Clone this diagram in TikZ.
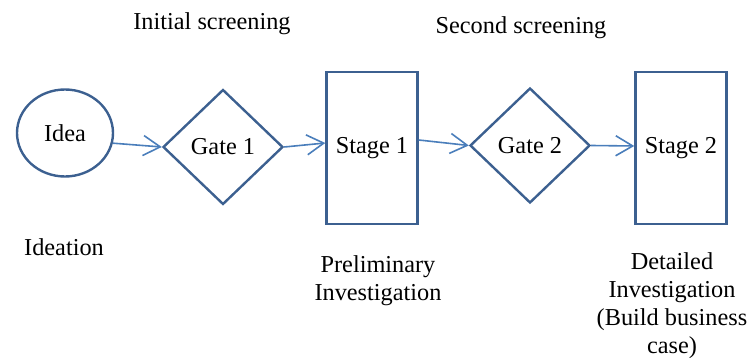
\documentclass[tikz,border=0pt]{standalone}
\usepackage{fontspec}
\setmainfont{Liberation Serif}
\usetikzlibrary{shapes.geometric,arrows.meta}
\definecolor{shapeblue}{HTML}{3C6090}
\definecolor{arrowblue}{HTML}{4A7EBB}
\begin{document}
\begin{tikzpicture}[x=1pt,y=-1pt,
  every node/.style={font=\fontsize{24.3}{28}\selectfont, text=black},
  shp/.style={draw=shapeblue, line width=2.4pt, inner sep=0pt},
  ideashape/.style={shp, ellipse, minimum width=96pt, minimum height=87pt},
  gateshape/.style={shp, diamond, minimum width=120pt, minimum height=115pt},
  stageshape/.style={shp, rectangle, minimum width=91pt, minimum height=152pt},
  conn/.style={draw=arrowblue, line width=1.6pt, -{Straight Barb[length=17pt,width=20pt,line width=1.6pt]}},
  lbl/.style={align=center, inner sep=0pt}
]
\useasboundingbox (0,0) rectangle (748,358);

\node[ideashape] (idea) at (65,133) {Idea};
\node[gateshape] (gate1) at (223,147) {Gate 1};
\node[stageshape] (stage1) at (372,148) {Stage 1};
\node[gateshape] (gate2) at (530,145.5) {Gate 2};
\node[stageshape] (stage2) at (681,148) {\raisebox{6pt}{Stage 2}};

\draw[conn] (idea.-12) -- (gate1.west);
\draw[conn] (gate1.east) -- ([yshift=5pt]stage1.west);
\draw[conn] ([yshift=8pt]stage1.east) -- (gate2.west);
\draw[conn] (gate2.east) -- ([yshift=2pt]stage2.west);

\node[lbl] (initial) at (212,24) {Initial screening};
\node[lbl] (second) at (521,28) {Second screening};
\node[lbl] (ideation) at (64,247) {Ideation};
\node[lbl] (prelim) at (378,281) {Preliminary\\Investigation};
\node[lbl] (detailed) at (672,306) {Detailed\\Investigation\\(Build business\\case)};
\end{tikzpicture}
\end{document}
